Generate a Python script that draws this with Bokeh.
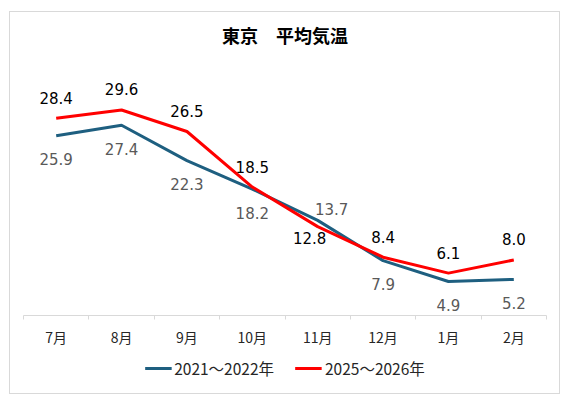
from bokeh.plotting import figure
from bokeh.models import ColumnDataSource, Legend, LegendItem, FixedTicker, Range1d
from bokeh.layouts import column
from bokeh.core.properties import value
from bokeh.embed import file_html
from bokeh.resources import INLINE

# ---- data ----
months = ["7月", "8月", "9月", "10月", "11月", "12月", "1月", "2月"]
series_a_name = "2021～2022年"
series_a = [25.9, 27.4, 22.3, 18.2, 13.7, 7.9, 4.9, 5.2]
series_b_name = "2025～2026年"
series_b = [28.4, 29.6, 26.5, 18.5, 12.8, 8.4, 6.1, 8.0]
title_text = "東京　平均気温"

TEAL = "#1E5F80"
RED = "#FF0000"
NUM_FONT = "DejaVu Sans"
CJK_FONT = "Noto Sans CJK JP"

xs = list(range(len(months)))
src = ColumnDataSource(dict(x=xs, a=series_a, b=series_b))

# ---------------- main chart ----------------
p = figure(frame_width=523, frame_height=243,
           output_backend="svg", toolbar_location=None,
           x_range=Range1d(-0.5, len(months) - 0.5), y_range=Range1d(0, 35),
           min_border_left=13, min_border_right=13, min_border_top=60, min_border_bottom=34)
p.outline_line_color = None
p.background_fill_color = "white"
p.border_fill_color = "white"
p.xgrid.visible = False
p.ygrid.visible = False
p.yaxis.visible = False

p.title.text = title_text
p.title.align = "center"
p.title.text_font = CJK_FONT
p.title.text_font_size = "18px"
p.title.text_font_style = "bold"
p.title.text_color = "#000000"
p.title.standoff = 0
try:
    p.title.padding = dict(left=0, right=0, top=0, bottom=25)
except Exception:
    p.title.padding = 16

# x axis: labels at category centres, tick marks at category boundaries
ax = p.xaxis[0]
ax.ticker = FixedTicker(ticks=xs, minor_ticks=[i - 0.5 for i in range(len(months) + 1)])
ax.major_label_overrides = {i: m for i, m in enumerate(months)}
ax.axis_line_color = "#D9D9D9"
ax.axis_line_width = 1
ax.major_tick_out = 0
ax.major_tick_in = 0
ax.minor_tick_line_color = "#D9D9D9"
ax.minor_tick_out = 4
ax.minor_tick_in = 0
ax.major_label_text_font = CJK_FONT
ax.major_label_text_font_size = "14px"
ax.major_label_text_color = "#262626"
ax.major_label_standoff = 7

p.line("x", "a", source=src, line_color=TEAL, line_width=3)
p.line("x", "b", source=src, line_color=RED, line_width=3)

# data labels: teal below, red above; November placed the other way round as in the original
i_nov = months.index("11月")
norm = [i for i in xs if i != i_nov]

def lab(idx, vals, dx, dy, color):
    s = ColumnDataSource(dict(x=[xs[i] for i in idx], y=[vals[i] for i in idx],
                              t=[f"{vals[i]:.1f}" for i in idx]))
    p.text("x", "y", text="t", source=s, x_offset=dx, y_offset=dy,
           text_align="center", text_baseline="middle", text_font=value(NUM_FONT),
           text_font_size="15px", text_color=color)

lab(norm, series_a, 0, 23.5, "#595959")
lab(norm, series_b, 0, -20.5, "#000000")
lab([i_nov], series_a, 14, -11.5, "#595959")
lab([i_nov], series_b, -8, 11.5, "#000000")

# ---------------- legend strip under the chart ----------------
pl = figure(width=549, height=44, output_backend="svg", toolbar_location=None,
            x_axis_type=None, y_axis_type=None,
            x_range=Range1d(-100, -99), y_range=Range1d(0, 35),
            min_border_left=13, min_border_right=13, min_border_top=0, min_border_bottom=7)
pl.outline_line_color = None
pl.background_fill_color = "white"
pl.border_fill_color = "white"
la = pl.line("x", "a", source=src, line_color=TEAL, line_width=3)
lb = pl.line("x", "b", source=src, line_color=RED, line_width=3)

legend = Legend(items=[LegendItem(label=series_a_name, renderers=[la]),
                       LegendItem(label=series_b_name, renderers=[lb])],
                orientation="horizontal", location="center",
                label_text_font=CJK_FONT, label_text_font_size="15.5px",
                label_text_color="#262626", glyph_width=27, glyph_height=16,
                label_standoff=3, spacing=21, padding=0, margin=0,
                border_line_color=None, background_fill_alpha=0)
pl.add_layout(legend)

layout = column(p, pl, spacing=0,
                styles={"border": "1px solid #D9D9D9", "margin-left": "9px", "margin-top": "11px",
                        "background-color": "white"})

open("out.html", "w").write(file_html(layout, INLINE))
